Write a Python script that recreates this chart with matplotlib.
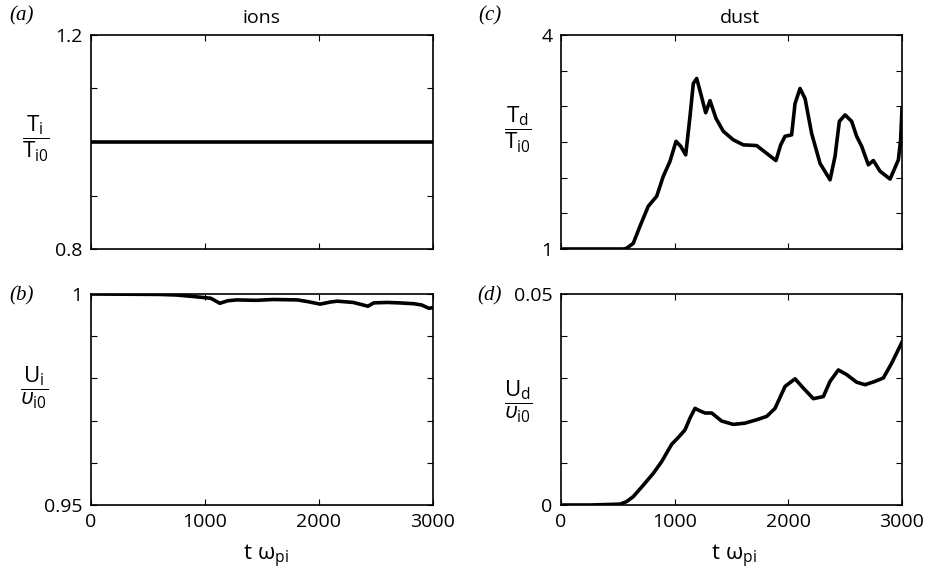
import matplotlib
matplotlib.use("Agg")
import matplotlib.pyplot as plt

# ---------------- data ----------------
t_a = [0, 500, 1000, 1500, 2000, 2500, 3000]
Ti = [1.0, 1.0, 1.0, 1.0, 1.0, 1.0, 1.0]

t_b = [0, 300, 600, 750, 900, 1050, 1130, 1200, 1280, 1450, 1600, 1810, 1900,
       2010, 2100, 2160, 2300, 2430, 2480, 2600, 2700, 2830, 2900, 2965, 3000]
Ui = [1.0, 0.99995, 0.9999, 0.99976, 0.9994, 0.9990, 0.9978, 0.9984, 0.9986,
      0.9985, 0.9987, 0.9986, 0.9982, 0.9976, 0.9981, 0.9983, 0.9980, 0.9971,
      0.9979, 0.9980, 0.9979, 0.9977, 0.9974, 0.9966, 0.9968]

t_c = [0, 255, 548, 577, 636, 695, 768, 842, 900, 959, 1012, 1053, 1097, 1135,
       1164, 1194, 1229, 1273, 1311, 1364, 1428, 1516, 1604, 1721, 1810, 1891,
       1933, 1971, 2029, 2059, 2103, 2147, 2205, 2279, 2367, 2411, 2449, 2499,
       2557, 2601, 2645, 2704, 2748, 2807, 2895, 2968, 2988, 3000]
Td = [1.0, 1.0, 1.0, 1.01, 1.08, 1.32, 1.60, 1.74, 2.02, 2.23, 2.51, 2.44, 2.32,
      2.86, 3.32, 3.39, 3.18, 2.91, 3.08, 2.83, 2.65, 2.53, 2.46, 2.45, 2.34,
      2.24, 2.46, 2.58, 2.60, 3.04, 3.25, 3.11, 2.62, 2.20, 1.97, 2.30, 2.79,
      2.88, 2.79, 2.58, 2.44, 2.18, 2.24, 2.09, 1.98, 2.25, 2.53, 2.97]

t_d = [0, 255, 519, 577, 636, 724, 812, 886, 974, 1032, 1091, 1135, 1179, 1223,
       1267, 1326, 1413, 1516, 1619, 1721, 1810, 1883, 1971, 2059, 2132, 2220,
       2308, 2367, 2440, 2513, 2601, 2675, 2763, 2836, 2909, 3000]
Ud = [0.0, 0.0, 0.0002, 0.0008, 0.002, 0.0047, 0.0075, 0.0103, 0.0144, 0.016,
      0.0178, 0.0206, 0.0229, 0.0223, 0.0218, 0.0218, 0.0199, 0.0191, 0.0194,
      0.0202, 0.021, 0.0229, 0.0281, 0.0299, 0.0277, 0.0252, 0.0257, 0.0293,
      0.032, 0.0309, 0.0291, 0.0285, 0.0293, 0.0301, 0.0336, 0.0386]

x_ticks = [0, 1000, 2000, 3000]
x_ticklabels = ["0", "1000", "2000", "3000"]

# ---------------- style ----------------
plt.rcParams['font.family'] = ['Open Sans', 'DejaVu Sans']
plt.rcParams['mathtext.fontset'] = 'custom'
plt.rcParams['mathtext.rm'] = 'Open Sans'
plt.rcParams['mathtext.it'] = 'Open Sans:italic'
plt.rcParams['mathtext.bf'] = 'Open Sans:bold'

fig = plt.figure(figsize=(9.29, 5.78), dpi=100)
W, H = 929, 578

def ax_at(x0, y0, x1, y1):
    return fig.add_axes([x0 / W, 1 - y1 / H, (x1 - x0) / W, (y1 - y0) / H])

axa = ax_at(91, 35, 433, 249)
axb = ax_at(91, 294, 433, 505)
axc = ax_at(561, 35, 902, 249)
axd = ax_at(561, 294, 902, 505)

LW = 2.6
axa.plot(t_a, Ti, color='black', lw=LW)
axb.plot(t_b, Ui, color='black', lw=LW)
axc.plot(t_c, Td, color='black', lw=LW, solid_joinstyle='round')
axd.plot(t_d, Ud, color='black', lw=LW, solid_joinstyle='round')

def style(ax, ylim, yticks, ylabels, xlabels):
    ax.set_xlim(0, 3000)
    ax.set_ylim(*ylim)
    ax.set_xticks(x_ticks)
    ax.set_xticklabels(x_ticklabels if xlabels else [""] * 4)
    ax.set_yticks(yticks)
    ax.set_yticklabels(ylabels)
    ax.tick_params(direction='in', top=True, right=True, length=4, width=0.8,
                   labelsize=14, pad=6)
    for s in ax.spines.values():
        s.set_linewidth(1.2)

style(axa, (0.8, 1.2), [0.8, 0.9, 1.0, 1.1, 1.2], ["0.8", "", "", "", "1.2"], False)
style(axb, (0.95, 1.0), [0.95, 0.96, 0.97, 0.98, 0.99, 1.0],
      ["0.95", "", "", "", "", "1"], True)
style(axc, (1, 4), [1, 1.5, 2, 2.5, 3, 3.5, 4], ["1", "", "", "", "", "", "4"], False)
style(axd, (0, 0.05), [0, 0.01, 0.02, 0.03, 0.04, 0.05],
      ["0", "", "", "", "", "0.05"], True)

def ftext(x, y, s, **kw):
    fig.text(x / W, 1 - y / H, s, **kw)

ftext(262, 18, "ions", ha='center', va='center', fontsize=14)
ftext(740, 18, "dust", ha='center', va='center', fontsize=14)

for lab, x, y in [("(a)", 22, 16), ("(b)", 22, 296), ("(c)", 490, 16), ("(d)", 490, 296)]:
    ftext(x, y, lab, ha='center', va='center', fontsize=15, style='italic',
          family='Liberation Serif')

ftext(36, 139, r'$\dfrac{\mathrm{T_i}}{\mathrm{T_{i0}}}$', ha='center', va='center', fontsize=16)
ftext(34, 388, r'$\dfrac{\mathrm{U_i}}{\upsilon_{\mathrm{i0}}}$', ha='center', va='center', fontsize=16)
ftext(518, 130, r'$\dfrac{\mathrm{T_d}}{\mathrm{T_{i0}}}$', ha='center', va='center', fontsize=16)
ftext(518, 402, r'$\dfrac{\mathrm{U_d}}{\upsilon_{\mathrm{i0}}}$', ha='center', va='center', fontsize=16)

ftext(266, 556, r'$\mathrm{t\ \omega_{pi}}$', ha='center', va='center', fontsize=16)
ftext(734, 556, r'$\mathrm{t\ \omega_{pi}}$', ha='center', va='center', fontsize=16)

fig.savefig("out.png", dpi=100)
